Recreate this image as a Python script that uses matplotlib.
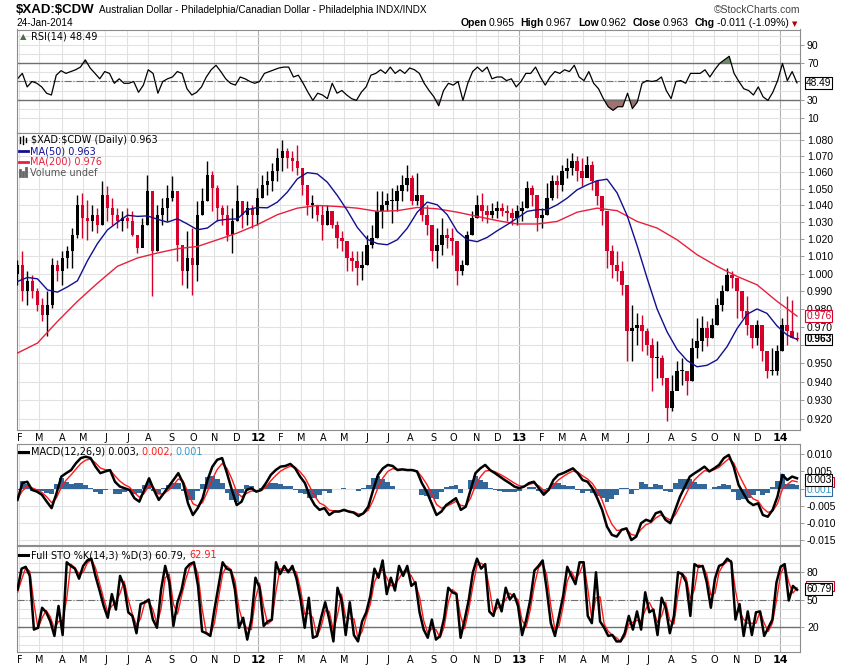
import numpy as np
import pandas as pd
import matplotlib
matplotlib.use("Agg")
import matplotlib.pyplot as plt
from matplotlib.lines import Line2D
from matplotlib.patches import Rectangle
from matplotlib.ticker import NullLocator

# ------------------------- #
# Data (weekly samples of a daily chart)
# ------------------------- #
START = "2011-01-28"
END = "2014-01-24"

first_open = 1.000

week_high = [
    1.0081, 1.0129, 1.0014, 0.9995, 0.9918, 0.9862, 0.9899, 1.0091, 1.0081, 1.0129,
    1.0158, 1.0266, 1.0464, 1.0474, 1.0434, 1.0404, 1.0384, 1.0545, 1.0514, 1.0444,
    1.0384, 1.0365, 1.0384, 1.0365, 1.0227, 1.0325, 1.0585, 1.0484, 1.0404, 1.0444,
    1.0524, 1.0575, 1.0484, 1.0168, 1.0246, 1.0266, 1.0424, 1.0504, 1.0666, 1.0605,
    1.0524, 1.0404, 1.0404, 1.0384, 1.0524, 1.0424, 1.0424, 1.0404, 1.0504, 1.0585,
    1.0605, 1.0656, 1.0748, 1.0800, 1.0748, 1.0728, 1.0769, 1.0626, 1.0524, 1.0464,
    1.0404, 1.0404, 1.0404, 1.0325, 1.0305, 1.0246, 1.0188, 1.0129, 1.0129, 1.0129,
    1.0227, 1.0286, 1.0484, 1.0484, 1.0474, 1.0504, 1.0524, 1.0585, 1.0646, 1.0585,
    1.0595, 1.0464, 1.0404, 1.0286, 1.0266, 1.0325, 1.0266, 1.0266, 1.0188, 1.0081,
    1.0246, 1.0365, 1.0464, 1.0474, 1.0404, 1.0414, 1.0424, 1.0414, 1.0404, 1.0384,
    1.0404, 1.0424, 1.0545, 1.0524, 1.0464, 1.0384, 1.0534, 1.0585, 1.0585, 1.0646,
    1.0687, 1.0718, 1.0697, 1.0687, 1.0697, 1.0666, 1.0545, 1.0454, 1.0365, 1.0168,
    1.0129, 1.0071, 0.9937, 0.9824, 0.9777, 0.9768, 0.9693, 0.9638, 0.9619, 0.9546,
    0.9419, 0.9437, 0.9510, 0.9528, 0.9455, 0.9638, 0.9749, 0.9758, 0.9730, 0.9749,
    0.9862, 0.9937, 1.0033, 1.0014, 0.9975, 0.9881, 0.9871, 0.9712, 0.9740, 0.9656,
    0.9564, 0.9583, 0.9601, 0.9749, 0.9871, 0.9852, 0.9670,
]

week_low = [
    0.9937, 0.9843, 0.9824, 0.9862, 0.9786, 0.9730, 0.9647, 0.9805, 0.9956, 0.9937,
    1.0033, 1.0033, 1.0207, 1.0207, 1.0197, 1.0246, 1.0237, 1.0286, 1.0305, 1.0286,
    1.0266, 1.0246, 1.0266, 1.0217, 1.0120, 1.0168, 1.0286, 0.9871, 1.0129, 1.0286,
    1.0305, 1.0424, 1.0071, 0.9937, 0.9918, 0.9881, 0.9956, 1.0345, 1.0424, 1.0365,
    1.0305, 1.0286, 1.0188, 1.0120, 1.0305, 1.0266, 1.0286, 1.0266, 1.0286, 1.0444,
    1.0464, 1.0484, 1.0545, 1.0605, 1.0626, 1.0605, 1.0585, 1.0464, 1.0345, 1.0325,
    1.0305, 1.0197, 1.0286, 1.0266, 1.0149, 1.0129, 1.0014, 1.0014, 0.9937, 0.9966,
    1.0052, 1.0149, 1.0207, 1.0266, 1.0365, 1.0296, 1.0365, 1.0424, 1.0484, 1.0404,
    1.0404, 1.0305, 1.0227, 1.0071, 1.0033, 1.0110, 1.0149, 1.0110, 0.9937, 0.9995,
    1.0052, 1.0227, 1.0325, 1.0305, 1.0296, 1.0325, 1.0325, 1.0335, 1.0305, 1.0286,
    1.0286, 1.0305, 1.0384, 1.0394, 1.0246, 1.0266, 1.0345, 1.0434, 1.0444, 1.0484,
    1.0565, 1.0585, 1.0545, 1.0514, 1.0585, 1.0494, 1.0404, 1.0286, 1.0033, 0.9975,
    0.9956, 0.9881, 0.9510, 0.9510, 0.9601, 0.9564, 0.9546, 0.9347, 0.9419, 0.9383,
    0.9188, 0.9240, 0.9365, 0.9383, 0.9329, 0.9401, 0.9528, 0.9564, 0.9592, 0.9638,
    0.9712, 0.9786, 0.9899, 0.9918, 0.9749, 0.9749, 0.9656, 0.9583, 0.9601, 0.9510,
    0.9419, 0.9437, 0.9437, 0.9564, 0.9601, 0.9638, 0.9620,
]

week_close = [
    1.0052, 0.9899, 0.9956, 0.9899, 0.9824, 0.9768, 0.9824, 1.0052, 1.0014, 1.0091,
    1.0129, 1.0227, 1.0404, 1.0325, 1.0305, 1.0345, 1.0286, 1.0464, 1.0384, 1.0345,
    1.0305, 1.0325, 1.0305, 1.0227, 1.0149, 1.0286, 1.0484, 1.0129, 1.0345, 1.0384,
    1.0444, 1.0484, 1.0168, 1.0014, 1.0091, 1.0052, 1.0345, 1.0424, 1.0585, 1.0504,
    1.0384, 1.0345, 1.0227, 1.0305, 1.0424, 1.0345, 1.0384, 1.0345, 1.0444, 1.0524,
    1.0545, 1.0605, 1.0687, 1.0728, 1.0687, 1.0666, 1.0626, 1.0524, 1.0404, 1.0404,
    1.0345, 1.0286, 1.0365, 1.0286, 1.0207, 1.0188, 1.0091, 1.0071, 1.0033, 1.0052,
    1.0168, 1.0207, 1.0365, 1.0404, 1.0424, 1.0424, 1.0484, 1.0524, 1.0565, 1.0424,
    1.0464, 1.0345, 1.0286, 1.0129, 1.0168, 1.0227, 1.0207, 1.0188, 1.0014, 1.0052,
    1.0227, 1.0325, 1.0404, 1.0365, 1.0345, 1.0365, 1.0384, 1.0365, 1.0355, 1.0325,
    1.0365, 1.0384, 1.0504, 1.0464, 1.0325, 1.0345, 1.0444, 1.0545, 1.0524, 1.0605,
    1.0626, 1.0666, 1.0605, 1.0565, 1.0646, 1.0545, 1.0454, 1.0365, 1.0129, 1.0052,
    1.0014, 0.9937, 0.9675, 0.9693, 0.9712, 0.9675, 0.9601, 0.9528, 0.9528, 0.9419,
    0.9258, 0.9347, 0.9455, 0.9455, 0.9401, 0.9583, 0.9619, 0.9693, 0.9638, 0.9712,
    0.9824, 0.9899, 0.9995, 0.9975, 0.9899, 0.9786, 0.9712, 0.9638, 0.9712, 0.9564,
    0.9455, 0.9455, 0.9564, 0.9712, 0.9675, 0.9638, 0.9630,
]

# moving averages, one sample every two weeks (MA50) and four weeks (MA200)
ma50 = [
    0.9956, 0.9979, 0.9971, 0.9908, 0.9895, 0.9925, 0.9960, 1.0075, 1.0175, 1.0255,
    1.0300, 1.0342, 1.0335, 1.0338, 1.0318, 1.0301, 1.0321, 1.0290, 1.0256, 1.0266,
    1.0310, 1.0318, 1.0320, 1.0375, 1.0388, 1.0386, 1.0420, 1.0480, 1.0560, 1.0598,
    1.0590, 1.0540, 1.0460, 1.0370, 1.0270, 1.0200, 1.0175, 1.0168, 1.0197, 1.0265,
    1.0360, 1.0420, 1.0404, 1.0345, 1.0246, 1.0197, 1.0186, 1.0211, 1.0250, 1.0286,
    1.0325, 1.0365, 1.0375, 1.0375, 1.0404, 1.0444, 1.0494, 1.0524, 1.0549, 1.0558,
    1.0475, 1.0340, 1.0163, 0.9975, 0.9800, 0.9672, 0.9575, 0.9514, 0.9480, 0.9488,
    0.9518, 0.9590, 0.9690, 0.9770, 0.9800, 0.9775, 0.9705, 0.9655, 0.9630,
]
ma200 = [
    0.9555, 0.9610, 0.9730, 0.9843, 0.9946, 1.0043, 1.0091, 1.0120, 1.0145, 1.0158,
    1.0197, 1.0237, 1.0286, 1.0345, 1.0384, 1.0400, 1.0394, 1.0384, 1.0365, 1.0369,
    1.0388, 1.0380, 1.0360, 1.0335, 1.0310, 1.0290, 1.0290, 1.0305, 1.0360, 1.0384,
    1.0369, 1.0305, 1.0266, 1.0197, 1.0110, 1.0043, 0.9985, 0.9937, 0.9843, 0.9760,
]

rsi_values = [
    53, 59, 44, 50, 48, 44, 37, 35, 57, 62, 59, 61, 63, 66, 74, 65, 59, 53, 61, 59,
    48, 53, 48, 48, 50, 38, 46, 63, 59, 37, 50, 53, 55, 61, 59, 42, 35, 38, 44, 55,
    63, 68, 61, 53, 48, 46, 55, 53, 50, 48, 50, 59, 61, 63, 65, 66, 66, 55, 57, 48,
    38, 29, 37, 35, 31, 48, 37, 40, 35, 31, 29, 38, 44, 57, 59, 63, 59, 66, 59, 63,
    59, 65, 63,
    59, 48, 40, 33, 23, 40, 48, 46, 50, 29, 48, 61, 66, 61, 66, 53, 55, 55, 51, 53,
    44, 50, 59, 59, 66, 55, 46, 55, 61, 59, 63, 61, 68, 55, 51, 61, 48, 42, 31, 22,
    18, 22, 22, 37, 20, 27, 48, 51, 50, 51, 55, 40, 31, 50, 51, 48, 59, 59, 59, 63,
    55, 63, 70, 74, 78, 59, 50, 42, 40, 35, 44, 33, 29, 38, 51, 70, 51, 61, 48.49,
]

macd_line = [
    -0.0033, 0.0016, 0.0020, -0.0004, -0.0009, -0.0018, -0.0038, -0.0057, -0.0014, 0.0035,
    0.0045, 0.0054, 0.0074, 0.0089, 0.0093, 0.0089, 0.0064, 0.0045, 0.0050, 0.0054,
    0.0020, 0.0006, 0.0001, -0.0004, -0.0028, -0.0038, -0.0004, 0.0030, -0.0004, -0.0033,
    -0.0014, 0.0006, 0.0025, 0.0045, 0.0016, -0.0043, -0.0077, -0.0057, -0.0028, 0.0025,
    0.0064, 0.0084, 0.0089, 0.0045, -0.0004, -0.0048, -0.0038, -0.0004, 0.0001, -0.0009,
    -0.0004, 0.0016, 0.0040, 0.0054, 0.0064, 0.0066, 0.0072, 0.0059, 0.0035, 0.0016,
    -0.0023, -0.0048, -0.0062, -0.0057, -0.0077, -0.0067, -0.0067, -0.0062, -0.0067, -0.0070,
    -0.0080, -0.0072, -0.0053, -0.0004, 0.0040, 0.0059, 0.0069, 0.0066, 0.0054, 0.0056,
    0.0054, 0.0054,
    0.0050, 0.0016, -0.0009, -0.0043, -0.0077, -0.0067, -0.0048, -0.0038, -0.0028, -0.0062,
    -0.0053, -0.0004, 0.0045, 0.0059, 0.0069, 0.0054, 0.0045, 0.0035, 0.0025, 0.0016,
    0.0006, 0.0001, 0.0006, 0.0016, 0.0020, 0.0001, -0.0018, -0.0004, 0.0025, 0.0040,
    0.0045, 0.0052, 0.0059, 0.0045, 0.0025, 0.0020, 0.0001, -0.0028, -0.0062, -0.0111,
    -0.0135, -0.0140, -0.0120, -0.0116, -0.0150, -0.0140, -0.0101, -0.0091, -0.0096, -0.0072,
    -0.0067, -0.0091, -0.0101, -0.0062, -0.0023, 0.0006, 0.0035, 0.0045, 0.0054, 0.0064,
    0.0050, 0.0059, 0.0069, 0.0089, 0.0098, 0.0064, 0.0011, -0.0014, -0.0038, -0.0048,
    -0.0043, -0.0077, -0.0082, -0.0062, -0.0023, 0.0040, 0.0025, 0.0035, 0.0030,
]

macd_signal = [
    -0.0030, -0.0007, 0.0007, 0.0002, -0.0004, -0.0011, -0.0024, -0.0041, -0.0027, 0.0004,
    0.0025, 0.0040, 0.0057, 0.0073, 0.0083, 0.0086, 0.0075, 0.0060, 0.0055, 0.0054,
    0.0037, 0.0022, 0.0011, 0.0004, -0.0012, -0.0025, -0.0014, 0.0008, 0.0002, -0.0016,
    -0.0015, -0.0005, 0.0010, 0.0028, 0.0022, -0.0011, -0.0044, -0.0051, -0.0040, -0.0008,
    0.0028, 0.0056, 0.0073, 0.0059, 0.0028, -0.0010, -0.0024, -0.0014, -0.0007, -0.0008,
    -0.0006, 0.0005, 0.0023, 0.0038, 0.0051, 0.0059, 0.0065, 0.0062, 0.0049, 0.0032,
    0.0005, -0.0022, -0.0042, -0.0049, -0.0063, -0.0065, -0.0066, -0.0064, -0.0066, -0.0068,
    -0.0074, -0.0073, -0.0063, -0.0034, 0.0003, 0.0031, 0.0050, 0.0058, 0.0056, 0.0056,
    0.0055, 0.0054,
    0.0052, 0.0034, 0.0013, -0.0015, -0.0046, -0.0057, -0.0052, -0.0045, -0.0037, -0.0049,
    -0.0051, -0.0028, 0.0009, 0.0034, 0.0051, 0.0053, 0.0049, 0.0042, 0.0034, 0.0025,
    0.0016, 0.0008, 0.0007, 0.0012, 0.0016, 0.0008, -0.0005, -0.0005, 0.0010, 0.0025,
    0.0035, 0.0044, 0.0051, 0.0048, 0.0037, 0.0028, 0.0015, -0.0007, -0.0034, -0.0073,
    -0.0104, -0.0122, -0.0121, -0.0118, -0.0134, -0.0137, -0.0119, -0.0105, -0.0100, -0.0086,
    -0.0077, -0.0084, -0.0092, -0.0077, -0.0050, -0.0022, 0.0006, 0.0026, 0.0040, 0.0052,
    0.0051, 0.0055, 0.0062, 0.0075, 0.0087, 0.0075, 0.0043, 0.0015, -0.0012, -0.0030,
    -0.0036, -0.0057, -0.0069, -0.0066, -0.0044, -0.0002, 0.0012, 0.0023, 0.0020,
]

sto_k = [
    61, 84, 86, 76, 17, 19, 41, 36, 26, 10, 43, 11, 91, 87, 84, 73, 87, 93, 95, 76,
    60, 43, 30, 56, 39, 76, 65, 36, 32, 13, 45, 47, 50, 28, 19, 61, 87, 69, 21, 47,
    61, 84, 89, 91, 65, 15, 13, 10, 39, 65, 91, 84, 82, 61, 19, 30, 6, 28, 74, 63,
    21, 26, 28, 91, 78, 87, 80, 87, 73, 50, 19, 52, 8, 10, 30, 47, 28, 4, 63, 49,
    11, 47, 11, 4, 26, 36, 54, 84, 74, 93, 56, 74, 60, 87, 76, 87, 65,
    69, 36, 17, 8, 28, 6, 10, 30, 63, 58, 56, 8, 28, 50, 80, 95, 84, 89, 37, 32,
    50, 37, 63, 50, 56, 43, 11, 28, 50, 82, 87, 93, 61, 24, 10, 32, 54, 86, 76, 67,
    91, 91, 32, 24, 80, 26, 19, 10, 11, 4, 4, 13, 32, 17, 37, 17, 58, 36, 39, 11,
    52, 41, 13, 32, 80, 78, 69, 32, 89, 86, 87, 69, 41, 73, 87, 89, 95, 91, 28, 45,
    10, 37, 11, 36, 37, 10, 19, 28, 69, 86, 89, 49, 65, 60.79,
]

sto_d = [
    58, 72, 85, 81, 46, 18, 30, 38, 31, 18, 26, 27, 51, 89, 85, 78, 80, 90, 94, 85,
    68, 51, 36, 43, 47, 57, 70, 50, 34, 22, 29, 46, 48, 39, 23, 40, 74, 78, 45, 34,
    54, 72, 86, 90, 78, 40, 14, 11, 24, 52, 78, 87, 83, 71, 40, 24, 18, 17, 51, 68,
    42, 23, 27, 59, 84, 82, 83, 83, 80, 61, 34, 35, 30, 9, 20, 38, 37, 16, 33, 56,
    30, 29, 29, 7, 15, 31, 45, 69, 79, 83, 74, 65, 67, 73, 81, 81, 76,
    67, 53, 27, 13, 18, 17, 8, 20, 47, 61, 57, 32, 18, 39, 65, 88, 90, 87, 63, 35,
    41, 44, 50, 57, 53, 50, 27, 20, 39, 66, 85, 90, 77, 43, 17, 21, 43, 70, 81, 72,
    79, 91, 62, 28, 52, 53, 23, 15, 11, 8, 4, 9, 23, 25, 27, 27, 38, 47, 38, 25,
    32, 47, 27, 23, 56, 79, 74, 51, 61, 88, 87, 78, 55, 57, 80, 88, 92, 93, 60, 37,
    28, 24, 24, 24, 37, 24, 15, 24, 49, 78, 88, 69, 57, 62.91,
]

# ------------------------- #
# Time axis: one slot per weekday, like the original
# ------------------------- #
days = pd.bdate_range(START, END)
last = len(days) - 1


def spread(values):
    return np.linspace(0, last, len(values))


new_month = np.r_[True, days.month[1:] != days.month[:-1]]
month_pos = np.flatnonzero(new_month)[1:]
month_lbl = [
    f"{days[p].year % 100:02d}" if days[p].month == 1 else "JFMAMJJASOND"[days[p].month - 1]
    for p in month_pos
]

RED = "#d6002b"
GRID = "#e2e2e2"
EDGE = "#8c8c8c"
W, H = 850, 668
LEFT, RIGHT = 17, 800

plt.rcParams["font.family"] = ["Liberation Sans", "DejaVu Sans"]
fig = plt.figure(figsize=(W / 100, H / 100), dpi=100)


def panel(top, bottom, levels):
    ax = fig.add_axes([LEFT / W, 1 - bottom / H, (RIGHT - LEFT) / W, (bottom - top) / H])
    ax.set_xlim(-0.5, last + 3)
    for s in ax.spines.values():
        s.set_color(EDGE)
        s.set_linewidth(0.8)
    ax.yaxis.tick_right()
    ax.tick_params(axis="y", length=3, width=0.6, pad=2, labelsize=7.5, color=EDGE)
    ax.tick_params(axis="x", length=0, pad=2.2, labelsize=7)
    ax.set_xticks(month_pos)
    ax.set_xticklabels([])
    for p in month_pos:
        year = days[p].month == 1
        ax.axvline(p, color="#b0b0b0" if year else GRID, lw=0.8, zorder=0)
    for v in levels:
        ax.axhline(v, color=GRID, lw=0.8, zorder=0)
    return ax


def month_labels(ax):
    ax.set_xticklabels(month_lbl, family="DejaVu Sans")
    for t in ax.get_xticklabels():
        if t.get_text().isdigit():
            t.set_fontweight("bold")
            t.set_fontsize(8)


def tag(ax, y, text, color="black", ec="black", weight="normal", dy=0):
    ax.annotate(text, xy=(1, y), xycoords=ax.get_yaxis_transform(),
                xytext=(4.5, dy), textcoords="offset points", ha="left", va="center",
                fontsize=7.3, color=color, fontweight=weight, annotation_clip=False,
                zorder=8,
                bbox=dict(boxstyle="square,pad=0.08", fc="white", ec=ec, lw=0.8))


def hidden_tag(ax, y, color):
    # a value box that sits behind another one: only its frame shows
    lo, hi = ax.get_ylim()
    h = (hi - lo) / (ax.bbox.height) * 10
    ax.add_patch(Rectangle((1.0077, y - h / 2), 0.036, h, transform=ax.get_yaxis_transform(),
                           fc="white", ec=color, lw=0.8, clip_on=False, zorder=2.5))


def text_run(x_px, y_px, pieces, family="DejaVu Sans", align="left"):
    # pieces: (text, size, weight, color, gap in px after it)
    renderer = fig.canvas.get_renderer()
    items, total = [], 0.0
    for text, size, weight, color, gap in pieces:
        t = fig.text(0, 1 - y_px / H, text, fontsize=size, fontweight=weight,
                     color=color, family=family, va="center", ha="left")
        w = t.get_window_extent(renderer).width
        items.append((t, total))
        total += w + gap
    x0 = x_px - total if align == "right" else x_px
    for t, off in items:
        t.set_x((x0 + off) / W)


def legend_line(y_px, color, lw=1.8):
    fig.add_artist(Line2D([19 / W, 28 / W], [1 - y_px / H] * 2, color=color, lw=lw))


# ------------------------- #
# RSI panel
# ------------------------- #
ax_rsi = panel(29.5, 132.5, range(10, 101, 10))
ax_rsi.set_ylim(-6.6, 107.7)
rsi = np.array(rsi_values)
x_rsi = spread(rsi)
ax_rsi.fill_between(x_rsi, rsi, 70, where=rsi >= 70, interpolate=True, color="#6f8f6c", lw=0)
ax_rsi.fill_between(x_rsi, rsi, 30, where=rsi <= 30, interpolate=True, color="#a0716e", lw=0)
ax_rsi.axhline(70, color="#707070", lw=1)
ax_rsi.axhline(30, color="#707070", lw=1)
ax_rsi.axhline(50, color="#707070", lw=0.8, ls="-.")
ax_rsi.plot(x_rsi, rsi, color="black", lw=0.9)
ax_rsi.set_yticks([10, 30, 70, 90])
tag(ax_rsi, rsi[-1], f"{rsi[-1]:.2f}")

# ------------------------- #
# Price panel (log scale)
# ------------------------- #
price_levels = np.round(np.arange(0.92, 1.0801, 0.01), 3)
ax_px = panel(132.5, 430, price_levels)
ax_px.set_yscale("log")
ax_px.set_ylim(0.9142, 1.0845)
# 0.960 sits under the last-close box, as in the original
ax_px.set_yticks(price_levels,
                 labels=["" if v == 0.96 else f"{v:.3f}" for v in price_levels])
ax_px.yaxis.set_minor_locator(NullLocator())

close = np.array(week_close)
opens = np.r_[first_open, close[:-1]]
x_w = spread(close)
colors = np.where(close >= opens, "black", RED)
ax_px.vlines(x_w, week_low, week_high, colors=colors, lw=1, zorder=3)
ax_px.bar(x_w, np.maximum(np.abs(close - opens), 0.0008), bottom=np.minimum(opens, close),
          width=3.6, color=colors, linewidth=0, zorder=3)
ax_px.plot(spread(ma200), ma200, color="#e8203c", lw=1, zorder=4)
ax_px.plot(spread(ma50), ma50, color="#101090", lw=1, zorder=4)
month_labels(ax_px)
tag(ax_px, ma200[-1], f"{ma200[-1]:.3f}", color=RED, ec=RED)
tag(ax_px, close[-1], f"{close[-1]:.3f}", weight="bold")

# ------------------------- #
# MACD panel
# ------------------------- #
ax_macd = panel(444, 545, np.arange(-0.015, 0.0101, 0.005))
ax_macd.set_ylim(-0.01645, 0.0130)
macd = np.array(macd_line)
signal = np.array(macd_signal)
x_m = spread(macd)
ax_macd.bar(x_m, macd - signal, width=x_m[1] - x_m[0], color="#336699", linewidth=0, zorder=2)
ax_macd.plot(x_m, signal, color="#ff1a1a", lw=1, zorder=3)
ax_macd.plot(x_m, macd, color="black", lw=1.8, zorder=4)
macd_ticks = [-0.015, -0.010, -0.005, 0.0, 0.005, 0.010]
ax_macd.set_yticks(macd_ticks,
                   labels=["" if v == 0 else f"{v:.3f}" for v in macd_ticks])
hidden_tag(ax_macd, macd_signal[-1], RED)
tag(ax_macd, macd[-1] - signal[-1], "0.001", color="#3399cc", ec="#336699", dy=-3.5)
tag(ax_macd, macd[-1], "0.003", dy=-1.3)

# ------------------------- #
# Full stochastics panel
# ------------------------- #
ax_sto = panel(546, 651.5, range(0, 101, 10))
ax_sto.set_ylim(-7.1, 108.9)
x_s = spread(sto_k)
ax_sto.axhline(80, color="#707070", lw=1)
ax_sto.axhline(20, color="#707070", lw=1)
ax_sto.axhline(50, color="#707070", lw=0.8, ls="-.")
ax_sto.plot(x_s, sto_d, color="#ff1a1a", lw=1, zorder=3)
ax_sto.plot(x_s, sto_k, color="black", lw=1.8, zorder=4)
ax_sto.set_yticks([20, 50, 80])
month_labels(ax_sto)
hidden_tag(ax_sto, sto_d[-1] + 2, RED)
tag(ax_sto, sto_k[-1], f"{sto_k[-1]:.2f}", dy=0.6)

# ------------------------- #
# Header and legends
# ------------------------- #
text_run(16, 10, [
    ("\\$XAD:\\$CDW", 9.5, "bold", "black", 4),
    ("Australian Dollar - Philadelphia/Canadian Dollar - Philadelphia INDX/INDX",
     7.2, "normal", "black", 0),
], family="Liberation Sans")
fig.text(16 / W, 1 - 23 / H, "24-Jan-2014", fontsize=7.2, va="center")
fig.text(800 / W, 1 - 10 / H, "©StockCharts.com", fontsize=7.5, color="#444444",
         ha="right", va="center")
text_run(789, 23, [
    ("Open", 7.5, "bold", "black", 2), ("0.965", 7.5, "normal", "black", 6),
    ("High", 7.5, "bold", "black", 2), ("0.967", 7.5, "normal", "black", 6),
    ("Low", 7.5, "bold", "black", 2), ("0.962", 7.5, "normal", "black", 6),
    ("Close", 7.5, "bold", "black", 2), ("0.963", 7.5, "normal", "black", 6),
    ("Chg", 7.5, "bold", "black", 2), ("-0.011 (-1.09%)", 7.5, "normal", "black", 0),
], family="Liberation Sans", align="right")
fig.text(795 / W, 1 - 24 / H, "▼", fontsize=5, color="#b00000", ha="center",
         va="center", family="DejaVu Sans")

LEG = dict(fontsize=7, va="center", family="DejaVu Sans")
# small legend icons
fig.text(23 / W, 1 - 36.5 / H, "▲", fontsize=6, color="#4f6e4f", ha="center",
         va="center", family="DejaVu Sans")
for i, (lo, hi) in enumerate([(137, 143), (136, 144), (138, 142)]):
    fig.add_artist(Line2D([(20 + 3 * i) / W] * 2, [1 - lo / H, 1 - hi / H],
                          color="black", lw=1))
for i, hi in enumerate([170, 172, 168]):
    fig.add_artist(Line2D([(20 + 3 * i) / W] * 2, [1 - 176 / H, 1 - hi / H],
                          color="#666666", lw=2))

fig.text(31 / W, 1 - 36.5 / H, "RSI(14) 48.49", **LEG)
fig.text(31 / W, 1 - 140 / H, "\\$XAD:\\$CDW (Daily) 0.963", **LEG)
legend_line(151, "#101090", 2)
fig.text(30 / W, 1 - 151 / H, "MA(50) 0.963", color="#101090", **LEG)
legend_line(162, "#e8203c", 2)
fig.text(30 / W, 1 - 162 / H, "MA(200) 0.976", color="#e8203c", **LEG)
fig.text(30 / W, 1 - 173 / H, "Volume undef", color="#555555", **LEG)

legend_line(452, "black", 2.2)
text_run(31, 452, [
    ("MACD(12,26,9) 0.003, ", 7, "normal", "black", 0),
    ("0.002, ", 7, "normal", "#ff1a1a", 0),
    ("0.001", 7, "normal", "#3399cc", 0),
])
legend_line(555, "black", 2.2)
text_run(31, 555, [
    ("Full STO %K(14,3) %D(3) 60.79, ", 7, "normal", "black", 0),
    ("62.91", 7, "normal", "#ff1a1a", 0),
])

plt.savefig("out.png", dpi=100)
